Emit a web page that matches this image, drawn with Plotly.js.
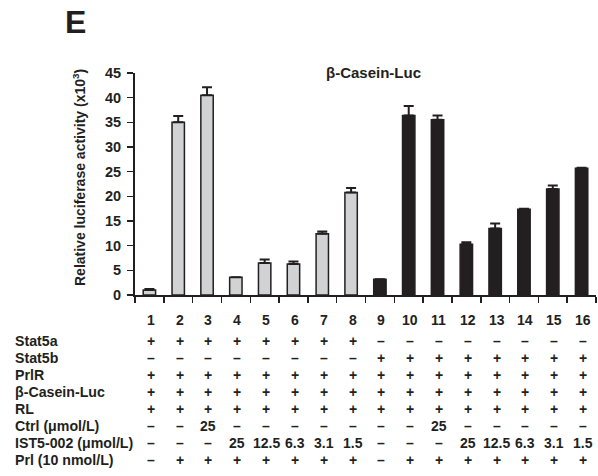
<!DOCTYPE html>
<html>
<head>
<meta charset="utf-8">
<script src="https://cdn.plot.ly/plotly-3.0.1.min.js"></script>
<style>html,body{margin:0;padding:0;background:#fff;}#chart{width:598px;height:476px;}</style>
</head>
<body>
<div id="chart"></div>
<script>
const lanes = ['1','2','3','4','5','6','7','8','9','10','11','12','13','14','15','16'];
const activity = [1.0, 35.0, 40.5, 3.6, 6.5, 6.3, 12.4, 20.8, 3.2, 36.4, 35.5, 10.3, 13.5, 17.4, 21.5, 25.7];
const errPlus = [0.2, 1.3, 1.6, 0, 0.7, 0.5, 0.45, 0.9, 0, 1.9, 0.9, 0.4, 1.0, 0.1, 0.7, 0.1];
const stat5aLanes = lanes.slice(0, 8);
const stat5bLanes = lanes.slice(8);

const rowLabels = ['Stat5a', 'Stat5b', 'PrlR', 'β-Casein-Luc', 'RL', 'Ctrl (μmol/L)', 'IST5-002 (μmol/L)', 'Prl (10 nmol/L)'];
const rowStat5a = ['+','+','+','+','+','+','+','+','–','–','–','–','–','–','–','–'];
const rowStat5b = ['–','–','–','–','–','–','–','–','+','+','+','+','+','+','+','+'];
const rowPrlR   = ['+','+','+','+','+','+','+','+','+','+','+','+','+','+','+','+'];
const rowCasein = ['+','+','+','+','+','+','+','+','+','+','+','+','+','+','+','+'];
const rowRL     = ['+','+','+','+','+','+','+','+','+','+','+','+','+','+','+','+'];
const rowCtrl   = ['–','–','25','–','–','–','–','–','–','–','25','–','–','–','–','–'];
const rowIST    = ['–','–','–','25','12.5','6.3','3.1','1.5','–','–','–','25','12.5','6.3','3.1','1.5'];
const rowPrl    = ['–','+','+','+','+','+','+','+','–','+','+','+','+','+','+','+'];
const tableRows = [rowStat5a, rowStat5b, rowPrlR, rowCasein, rowRL, rowCtrl, rowIST, rowPrl];

const ink = '#231f20';
const F = 'Liberation Sans, Arial, Helvetica, sans-serif';
const M = {l:135, r:2, t:73, b:181};
const W = 598, H = 476;
const ph = H - M.t - M.b, pw = W - M.l - M.r;
const py = p => (H - M.b - p) / ph;
const px = p => (p - M.l) / pw;

const xnum = lanes.map(Number);
function barTrace(idx, fill) {
  return {
    type: 'bar',
    x: idx.map(i => xnum[i]),
    y: idx.map(i => activity[i]),
    width: 0.43,
    marker: {color: fill, line: {color: ink, width: 1.5}},
    error_y: {type: 'data', symmetric: false, array: idx.map(i => errPlus[i]), arrayminus: idx.map(() => 0),
      color: ink, thickness: 2, width: 5, visible: true},
    hoverinfo: 'skip', showlegend: false
  };
}
const idxA = stat5aLanes.map(l => lanes.indexOf(l));
const idxB = stat5bLanes.map(l => lanes.indexOf(l));
const traces = [barTrace(idxA, '#d1d2d4'), barTrace(idxB, ink)];

const ann = [];
const bold = (size) => ({family: F, size: size, color: ink, weight: 'bold'});
ann.push({text: 'E', xref: 'paper', yref: 'paper', x: px(75), y: py(22), xanchor: 'center', yanchor: 'middle',
  showarrow: false, font: bold(32)});
ann.push({text: 'β-Casein-Luc', xref: 'paper', yref: 'paper', x: px(373), y: py(72), xanchor: 'center', yanchor: 'middle',
  showarrow: false, font: bold(15)});
ann.push({text: 'Relative luciferase activity (x10<sup>3</sup>)', xref: 'paper', yref: 'paper', x: px(79), y: py(178),
  xanchor: 'center', yanchor: 'middle', textangle: -90, showarrow: false, font: bold(14)});
lanes.forEach((l, i) => {
  ann.push({text: l, xref: 'x', yref: 'paper', x: xnum[i] + 0.05, y: py(320), xanchor: 'center', yanchor: 'middle',
    showarrow: false, font: bold(14)});
});
tableRows.forEach((row, r) => {
  const yy = py(341 + r * 17);
  ann.push({text: rowLabels[r], xref: 'paper', yref: 'paper', x: px(13), y: yy, xanchor: 'left', yanchor: 'middle',
    showarrow: false, font: bold(14.2)});
  row.forEach((v, i) => {
    ann.push({text: v, xref: 'x', yref: 'paper', x: xnum[i] + 0.05, y: yy, xanchor: 'center', yanchor: 'middle',
      showarrow: false, font: bold(14)});
  });
});

const layout = {
  width: W, height: H, margin: M, paper_bgcolor: '#fff', plot_bgcolor: '#fff',
  bargap: 0.5,
  xaxis: {range: [0.5, 16.5], tickmode: 'array', tickvals: xnum.map(v => v - 0.5).concat([16.5]), showticklabels: false,
    ticks: 'outside', ticklen: 6, tickwidth: 1.5, tickcolor: ink, showline: true, linecolor: ink, linewidth: 2,
    showgrid: false, zeroline: false, fixedrange: true},
  yaxis: {range: [0, 45], tickmode: 'array', tickvals: [0,5,10,15,20,25,30,35,40,45],
    ticks: 'outside', ticklen: 6, tickwidth: 1.5, tickcolor: ink, showline: true, linecolor: ink, linewidth: 2,
    showgrid: false, zeroline: false, tickfont: bold(14.5), ticklabelstandoff: 3, fixedrange: true},
  annotations: ann
};
Plotly.newPlot('chart', traces, layout, {staticPlot: true, displayModeBar: false});
</script>
</body>
</html>
